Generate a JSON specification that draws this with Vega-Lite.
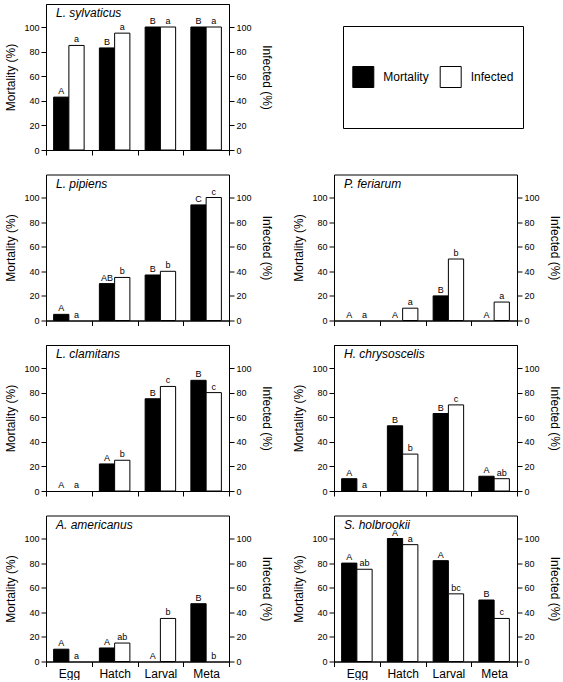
{
"$schema":"https://vega.github.io/schema/vega-lite/v6.json",
"padding":{"left":4,"top":3,"right":0,"bottom":0},
"config":{"font":"Liberation Sans","view":{"stroke":"black","strokeWidth":1},
"axis":{"domainColor":"black","tickColor":"black","labelColor":"black","titleColor":"black","grid":false,"titleFontWeight":"normal","titleFontSize":12,"labelFontSize":9,"tickSize":5,"domainWidth":1,"tickWidth":1},
"axisLeft":{"titlePadding":6},"axisRight":{"titlePadding":8},
"text":{"color":"black"}},
"data":{"values":[
{"species":"L. sylvaticus","stage":"Egg","measure":"Mortality","value":43,"letter":"A"},
{"species":"L. sylvaticus","stage":"Hatch","measure":"Mortality","value":83,"letter":"B"},
{"species":"L. sylvaticus","stage":"Larval","measure":"Mortality","value":100,"letter":"B"},
{"species":"L. sylvaticus","stage":"Meta","measure":"Mortality","value":100,"letter":"B"},
{"species":"L. sylvaticus","stage":"Egg","measure":"Infected","value":85,"letter":"a"},
{"species":"L. sylvaticus","stage":"Hatch","measure":"Infected","value":95,"letter":"a"},
{"species":"L. sylvaticus","stage":"Larval","measure":"Infected","value":100,"letter":"a"},
{"species":"L. sylvaticus","stage":"Meta","measure":"Infected","value":100,"letter":"a"},
{"species":"L. pipiens","stage":"Egg","measure":"Mortality","value":5,"letter":"A"},
{"species":"L. pipiens","stage":"Hatch","measure":"Mortality","value":30,"letter":"AB"},
{"species":"L. pipiens","stage":"Larval","measure":"Mortality","value":37,"letter":"B"},
{"species":"L. pipiens","stage":"Meta","measure":"Mortality","value":94,"letter":"C"},
{"species":"L. pipiens","stage":"Egg","measure":"Infected","value":0,"letter":"a"},
{"species":"L. pipiens","stage":"Hatch","measure":"Infected","value":35,"letter":"b"},
{"species":"L. pipiens","stage":"Larval","measure":"Infected","value":40,"letter":"b"},
{"species":"L. pipiens","stage":"Meta","measure":"Infected","value":100,"letter":"c"},
{"species":"L. clamitans","stage":"Egg","measure":"Mortality","value":0,"letter":"A"},
{"species":"L. clamitans","stage":"Hatch","measure":"Mortality","value":22,"letter":"A"},
{"species":"L. clamitans","stage":"Larval","measure":"Mortality","value":75,"letter":"B"},
{"species":"L. clamitans","stage":"Meta","measure":"Mortality","value":90,"letter":"B"},
{"species":"L. clamitans","stage":"Egg","measure":"Infected","value":0,"letter":"a"},
{"species":"L. clamitans","stage":"Hatch","measure":"Infected","value":25,"letter":"b"},
{"species":"L. clamitans","stage":"Larval","measure":"Infected","value":85,"letter":"c"},
{"species":"L. clamitans","stage":"Meta","measure":"Infected","value":80,"letter":"c"},
{"species":"A. americanus","stage":"Egg","measure":"Mortality","value":10,"letter":"A"},
{"species":"A. americanus","stage":"Hatch","measure":"Mortality","value":11,"letter":"A"},
{"species":"A. americanus","stage":"Larval","measure":"Mortality","value":0,"letter":"A"},
{"species":"A. americanus","stage":"Meta","measure":"Mortality","value":47,"letter":"B"},
{"species":"A. americanus","stage":"Egg","measure":"Infected","value":0,"letter":"a"},
{"species":"A. americanus","stage":"Hatch","measure":"Infected","value":15,"letter":"ab"},
{"species":"A. americanus","stage":"Larval","measure":"Infected","value":35,"letter":"b"},
{"species":"A. americanus","stage":"Meta","measure":"Infected","value":0,"letter":"b"},
{"species":"P. feriarum","stage":"Egg","measure":"Mortality","value":0,"letter":"A"},
{"species":"P. feriarum","stage":"Hatch","measure":"Mortality","value":0,"letter":"A"},
{"species":"P. feriarum","stage":"Larval","measure":"Mortality","value":20,"letter":"B"},
{"species":"P. feriarum","stage":"Meta","measure":"Mortality","value":0,"letter":"A"},
{"species":"P. feriarum","stage":"Egg","measure":"Infected","value":0,"letter":"a"},
{"species":"P. feriarum","stage":"Hatch","measure":"Infected","value":10,"letter":"a"},
{"species":"P. feriarum","stage":"Larval","measure":"Infected","value":50,"letter":"b"},
{"species":"P. feriarum","stage":"Meta","measure":"Infected","value":15,"letter":"a"},
{"species":"H. chrysoscelis","stage":"Egg","measure":"Mortality","value":10,"letter":"A"},
{"species":"H. chrysoscelis","stage":"Hatch","measure":"Mortality","value":53,"letter":"B"},
{"species":"H. chrysoscelis","stage":"Larval","measure":"Mortality","value":63,"letter":"B"},
{"species":"H. chrysoscelis","stage":"Meta","measure":"Mortality","value":12,"letter":"A"},
{"species":"H. chrysoscelis","stage":"Egg","measure":"Infected","value":0,"letter":"a"},
{"species":"H. chrysoscelis","stage":"Hatch","measure":"Infected","value":30,"letter":"b"},
{"species":"H. chrysoscelis","stage":"Larval","measure":"Infected","value":70,"letter":"c"},
{"species":"H. chrysoscelis","stage":"Meta","measure":"Infected","value":10,"letter":"ab"},
{"species":"S. holbrookii","stage":"Egg","measure":"Mortality","value":80,"letter":"A"},
{"species":"S. holbrookii","stage":"Hatch","measure":"Mortality","value":100,"letter":"A"},
{"species":"S. holbrookii","stage":"Larval","measure":"Mortality","value":82,"letter":"A"},
{"species":"S. holbrookii","stage":"Meta","measure":"Mortality","value":50,"letter":"B"},
{"species":"S. holbrookii","stage":"Egg","measure":"Infected","value":75,"letter":"ab"},
{"species":"S. holbrookii","stage":"Hatch","measure":"Infected","value":95,"letter":"a"},
{"species":"S. holbrookii","stage":"Larval","measure":"Infected","value":55,"letter":"bc"},
{"species":"S. holbrookii","stage":"Meta","measure":"Infected","value":35,"letter":"c"}
]},
"spacing":17.5,
"vconcat":[
{"hconcat":[
{"width":183,"height":146,"transform":[{"filter":"datum.species === 'L. sylvaticus'"}],
"encoding":{"x":{"field":"stage","type":"nominal","sort":["Egg","Hatch","Larval","Meta"],"scale":{"paddingInner":0,"paddingOuter":0},"axis":{"title":null,"labels":false,"tickBand":"extent"}}},
"layer":[
{"transform":[{"filter":"datum.value > 0"}],"mark":{"type":"bar","stroke":"black","strokeWidth":1},"encoding":{"xOffset":{"field":"measure","sort":["Mortality","Infected"],"scale":{"paddingInner":0,"paddingOuter":0.5}},"y":{"field":"value","type":"quantitative","scale":{"domain":[0,118.7],"nice":false},"axis":{"orient":"left","title":"Mortality (%)","values":[0,20,40,60,80,100]}},"fill":{"field":"measure","scale":{"domain":["Mortality","Infected"],"range":["black","white"]},"legend":null}}},
{"mark":{"type":"text","baseline":"bottom","dy":-1,"fontSize":9},"encoding":{"xOffset":{"field":"measure","sort":["Mortality","Infected"],"scale":{"paddingInner":0,"paddingOuter":0.5}},"y":{"field":"value","type":"quantitative","scale":{"domain":[0,118.7],"nice":false},"axis":{"orient":"right","title":"Infected (%)","values":[0,20,40,60,80,100]}},"text":{"field":"letter"}}},
{"transform":[{"filter":"datum.stage === 'Egg' && datum.measure === 'Mortality'"}],"mark":{"type":"text","align":"left","baseline":"middle","dx":10,"fontSize":12,"fontStyle":"italic"},"encoding":{"x":{"field":"stage","type":"nominal","bandPosition":0},"y":{"datum":111,"type":"quantitative","scale":{"domain":[0,118.7],"nice":false},"axis":null},"text":{"field":"species"}}}
],
"resolve":{"scale":{"y":"independent"},"axis":{"y":"independent"}}},
{"width":180,"height":102,"data":{"values":[{"measure":"Mortality"},{"measure":"Infected"}]},
"encoding":{"x":{"field":"measure","type":"nominal","sort":["Mortality","Infected"],"scale":{"type":"point","padding":0.53},"axis":null}},
"layer":[
{"mark":{"type":"point","shape":"square","size":441,"filled":true,"opacity":1,"stroke":"black","strokeWidth":1,"xOffset":-26},"encoding":{"fill":{"field":"measure","scale":{"domain":["Mortality","Infected"],"range":["black","white"]},"legend":null}}},
{"mark":{"type":"text","align":"left","baseline":"middle","fontSize":12,"dx":-6},"encoding":{"text":{"field":"measure"}}}
]}
],"spacing":114,"center":true,"bounds":"flush"},
{"hconcat":[
{"width":183,"height":146,"transform":[{"filter":"datum.species === 'L. pipiens'"}],
"encoding":{"x":{"field":"stage","type":"nominal","sort":["Egg","Hatch","Larval","Meta"],"scale":{"paddingInner":0,"paddingOuter":0},"axis":{"title":null,"labels":false,"tickBand":"extent"}}},
"layer":[
{"transform":[{"filter":"datum.value > 0"}],"mark":{"type":"bar","stroke":"black","strokeWidth":1},"encoding":{"xOffset":{"field":"measure","sort":["Mortality","Infected"],"scale":{"paddingInner":0,"paddingOuter":0.5}},"y":{"field":"value","type":"quantitative","scale":{"domain":[0,118.7],"nice":false},"axis":{"orient":"left","title":"Mortality (%)","values":[0,20,40,60,80,100]}},"fill":{"field":"measure","scale":{"domain":["Mortality","Infected"],"range":["black","white"]},"legend":null}}},
{"mark":{"type":"text","baseline":"bottom","dy":-1,"fontSize":9},"encoding":{"xOffset":{"field":"measure","sort":["Mortality","Infected"],"scale":{"paddingInner":0,"paddingOuter":0.5}},"y":{"field":"value","type":"quantitative","scale":{"domain":[0,118.7],"nice":false},"axis":{"orient":"right","title":"Infected (%)","values":[0,20,40,60,80,100]}},"text":{"field":"letter"}}},
{"transform":[{"filter":"datum.stage === 'Egg' && datum.measure === 'Mortality'"}],"mark":{"type":"text","align":"left","baseline":"middle","dx":10,"fontSize":12,"fontStyle":"italic"},"encoding":{"x":{"field":"stage","type":"nominal","bandPosition":0},"y":{"datum":111,"type":"quantitative","scale":{"domain":[0,118.7],"nice":false},"axis":null},"text":{"field":"species"}}}
],
"resolve":{"scale":{"y":"independent"},"axis":{"y":"independent"}}},
{"width":183,"height":146,"transform":[{"filter":"datum.species === 'P. feriarum'"}],
"encoding":{"x":{"field":"stage","type":"nominal","sort":["Egg","Hatch","Larval","Meta"],"scale":{"paddingInner":0,"paddingOuter":0},"axis":{"title":null,"labels":false,"tickBand":"extent"}}},
"layer":[
{"transform":[{"filter":"datum.value > 0"}],"mark":{"type":"bar","stroke":"black","strokeWidth":1},"encoding":{"xOffset":{"field":"measure","sort":["Mortality","Infected"],"scale":{"paddingInner":0,"paddingOuter":0.5}},"y":{"field":"value","type":"quantitative","scale":{"domain":[0,118.7],"nice":false},"axis":{"orient":"left","title":"Mortality (%)","values":[0,20,40,60,80,100]}},"fill":{"field":"measure","scale":{"domain":["Mortality","Infected"],"range":["black","white"]},"legend":null}}},
{"mark":{"type":"text","baseline":"bottom","dy":-1,"fontSize":9},"encoding":{"xOffset":{"field":"measure","sort":["Mortality","Infected"],"scale":{"paddingInner":0,"paddingOuter":0.5}},"y":{"field":"value","type":"quantitative","scale":{"domain":[0,118.7],"nice":false},"axis":{"orient":"right","title":"Infected (%)","values":[0,20,40,60,80,100]}},"text":{"field":"letter"}}},
{"transform":[{"filter":"datum.stage === 'Egg' && datum.measure === 'Mortality'"}],"mark":{"type":"text","align":"left","baseline":"middle","dx":10,"fontSize":12,"fontStyle":"italic"},"encoding":{"x":{"field":"stage","type":"nominal","bandPosition":0},"y":{"datum":111,"type":"quantitative","scale":{"domain":[0,118.7],"nice":false},"axis":null},"text":{"field":"species"}}}
],
"resolve":{"scale":{"y":"independent"},"axis":{"y":"independent"}}}
],"spacing":105,"bounds":"flush"},
{"hconcat":[
{"width":183,"height":146,"transform":[{"filter":"datum.species === 'L. clamitans'"}],
"encoding":{"x":{"field":"stage","type":"nominal","sort":["Egg","Hatch","Larval","Meta"],"scale":{"paddingInner":0,"paddingOuter":0},"axis":{"title":null,"labels":false,"tickBand":"extent"}}},
"layer":[
{"transform":[{"filter":"datum.value > 0"}],"mark":{"type":"bar","stroke":"black","strokeWidth":1},"encoding":{"xOffset":{"field":"measure","sort":["Mortality","Infected"],"scale":{"paddingInner":0,"paddingOuter":0.5}},"y":{"field":"value","type":"quantitative","scale":{"domain":[0,118.7],"nice":false},"axis":{"orient":"left","title":"Mortality (%)","values":[0,20,40,60,80,100]}},"fill":{"field":"measure","scale":{"domain":["Mortality","Infected"],"range":["black","white"]},"legend":null}}},
{"mark":{"type":"text","baseline":"bottom","dy":-1,"fontSize":9},"encoding":{"xOffset":{"field":"measure","sort":["Mortality","Infected"],"scale":{"paddingInner":0,"paddingOuter":0.5}},"y":{"field":"value","type":"quantitative","scale":{"domain":[0,118.7],"nice":false},"axis":{"orient":"right","title":"Infected (%)","values":[0,20,40,60,80,100]}},"text":{"field":"letter"}}},
{"transform":[{"filter":"datum.stage === 'Egg' && datum.measure === 'Mortality'"}],"mark":{"type":"text","align":"left","baseline":"middle","dx":10,"fontSize":12,"fontStyle":"italic"},"encoding":{"x":{"field":"stage","type":"nominal","bandPosition":0},"y":{"datum":111,"type":"quantitative","scale":{"domain":[0,118.7],"nice":false},"axis":null},"text":{"field":"species"}}}
],
"resolve":{"scale":{"y":"independent"},"axis":{"y":"independent"}}},
{"width":183,"height":146,"transform":[{"filter":"datum.species === 'H. chrysoscelis'"}],
"encoding":{"x":{"field":"stage","type":"nominal","sort":["Egg","Hatch","Larval","Meta"],"scale":{"paddingInner":0,"paddingOuter":0},"axis":{"title":null,"labels":false,"tickBand":"extent"}}},
"layer":[
{"transform":[{"filter":"datum.value > 0"}],"mark":{"type":"bar","stroke":"black","strokeWidth":1},"encoding":{"xOffset":{"field":"measure","sort":["Mortality","Infected"],"scale":{"paddingInner":0,"paddingOuter":0.5}},"y":{"field":"value","type":"quantitative","scale":{"domain":[0,118.7],"nice":false},"axis":{"orient":"left","title":"Mortality (%)","values":[0,20,40,60,80,100]}},"fill":{"field":"measure","scale":{"domain":["Mortality","Infected"],"range":["black","white"]},"legend":null}}},
{"mark":{"type":"text","baseline":"bottom","dy":-1,"fontSize":9},"encoding":{"xOffset":{"field":"measure","sort":["Mortality","Infected"],"scale":{"paddingInner":0,"paddingOuter":0.5}},"y":{"field":"value","type":"quantitative","scale":{"domain":[0,118.7],"nice":false},"axis":{"orient":"right","title":"Infected (%)","values":[0,20,40,60,80,100]}},"text":{"field":"letter"}}},
{"transform":[{"filter":"datum.stage === 'Egg' && datum.measure === 'Mortality'"}],"mark":{"type":"text","align":"left","baseline":"middle","dx":10,"fontSize":12,"fontStyle":"italic"},"encoding":{"x":{"field":"stage","type":"nominal","bandPosition":0},"y":{"datum":111,"type":"quantitative","scale":{"domain":[0,118.7],"nice":false},"axis":null},"text":{"field":"species"}}}
],
"resolve":{"scale":{"y":"independent"},"axis":{"y":"independent"}}}
],"spacing":105,"bounds":"flush"},
{"hconcat":[
{"width":183,"height":146,"transform":[{"filter":"datum.species === 'A. americanus'"}],
"encoding":{"x":{"field":"stage","type":"nominal","sort":["Egg","Hatch","Larval","Meta"],"scale":{"paddingInner":0,"paddingOuter":0},"axis":{"title":null,"labels":true,"labelFontSize":12,"labelPadding":2,"labelAngle":0,"tickBand":"extent"}}},
"layer":[
{"transform":[{"filter":"datum.value > 0"}],"mark":{"type":"bar","stroke":"black","strokeWidth":1},"encoding":{"xOffset":{"field":"measure","sort":["Mortality","Infected"],"scale":{"paddingInner":0,"paddingOuter":0.5}},"y":{"field":"value","type":"quantitative","scale":{"domain":[0,118.7],"nice":false},"axis":{"orient":"left","title":"Mortality (%)","values":[0,20,40,60,80,100]}},"fill":{"field":"measure","scale":{"domain":["Mortality","Infected"],"range":["black","white"]},"legend":null}}},
{"mark":{"type":"text","baseline":"bottom","dy":-1,"fontSize":9},"encoding":{"xOffset":{"field":"measure","sort":["Mortality","Infected"],"scale":{"paddingInner":0,"paddingOuter":0.5}},"y":{"field":"value","type":"quantitative","scale":{"domain":[0,118.7],"nice":false},"axis":{"orient":"right","title":"Infected (%)","values":[0,20,40,60,80,100]}},"text":{"field":"letter"}}},
{"transform":[{"filter":"datum.stage === 'Egg' && datum.measure === 'Mortality'"}],"mark":{"type":"text","align":"left","baseline":"middle","dx":10,"fontSize":12,"fontStyle":"italic"},"encoding":{"x":{"field":"stage","type":"nominal","bandPosition":0},"y":{"datum":111,"type":"quantitative","scale":{"domain":[0,118.7],"nice":false},"axis":null},"text":{"field":"species"}}}
],
"resolve":{"scale":{"y":"independent"},"axis":{"y":"independent"}}},
{"width":183,"height":146,"transform":[{"filter":"datum.species === 'S. holbrookii'"}],
"encoding":{"x":{"field":"stage","type":"nominal","sort":["Egg","Hatch","Larval","Meta"],"scale":{"paddingInner":0,"paddingOuter":0},"axis":{"title":null,"labels":true,"labelFontSize":12,"labelPadding":2,"labelAngle":0,"tickBand":"extent"}}},
"layer":[
{"transform":[{"filter":"datum.value > 0"}],"mark":{"type":"bar","stroke":"black","strokeWidth":1},"encoding":{"xOffset":{"field":"measure","sort":["Mortality","Infected"],"scale":{"paddingInner":0,"paddingOuter":0.5}},"y":{"field":"value","type":"quantitative","scale":{"domain":[0,118.7],"nice":false},"axis":{"orient":"left","title":"Mortality (%)","values":[0,20,40,60,80,100]}},"fill":{"field":"measure","scale":{"domain":["Mortality","Infected"],"range":["black","white"]},"legend":null}}},
{"mark":{"type":"text","baseline":"bottom","dy":-1,"fontSize":9},"encoding":{"xOffset":{"field":"measure","sort":["Mortality","Infected"],"scale":{"paddingInner":0,"paddingOuter":0.5}},"y":{"field":"value","type":"quantitative","scale":{"domain":[0,118.7],"nice":false},"axis":{"orient":"right","title":"Infected (%)","values":[0,20,40,60,80,100]}},"text":{"field":"letter"}}},
{"transform":[{"filter":"datum.stage === 'Egg' && datum.measure === 'Mortality'"}],"mark":{"type":"text","align":"left","baseline":"middle","dx":10,"fontSize":12,"fontStyle":"italic"},"encoding":{"x":{"field":"stage","type":"nominal","bandPosition":0},"y":{"datum":111,"type":"quantitative","scale":{"domain":[0,118.7],"nice":false},"axis":null},"text":{"field":"species"}}}
],
"resolve":{"scale":{"y":"independent"},"axis":{"y":"independent"}}}
],"spacing":105,"bounds":"flush"}
]
}
